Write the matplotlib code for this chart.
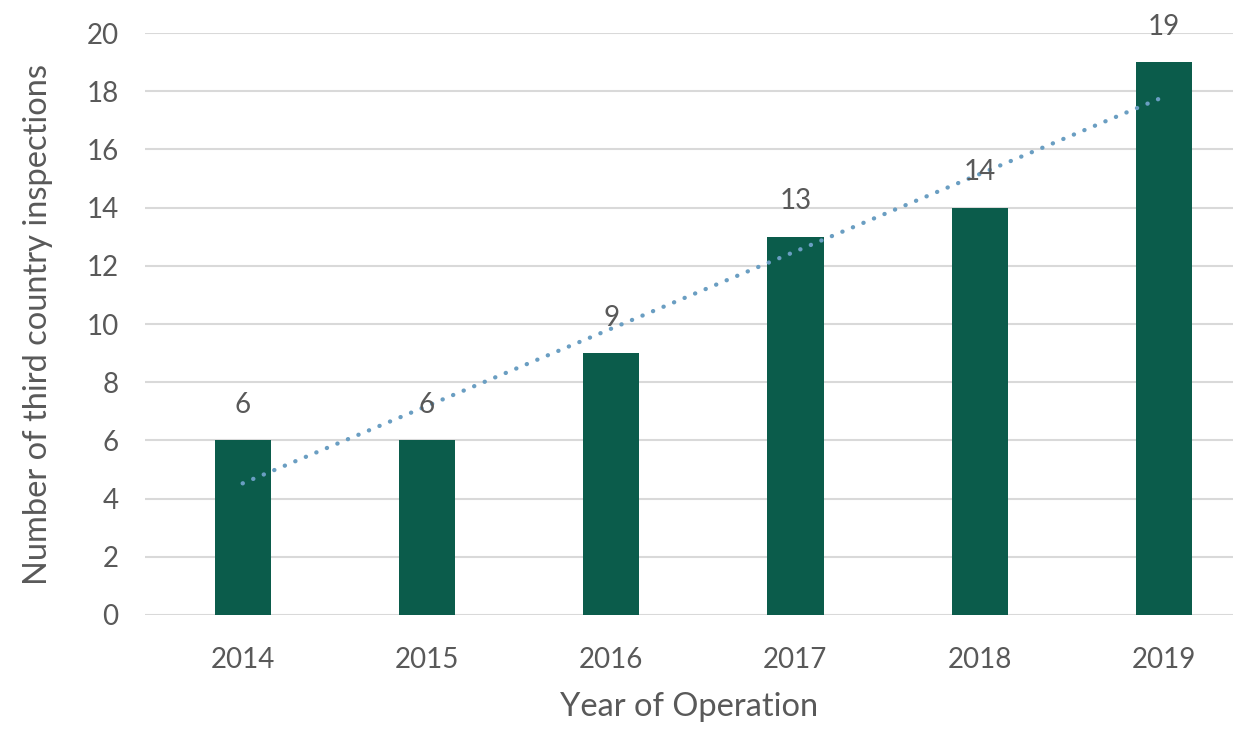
import matplotlib
matplotlib.use("Agg")
import matplotlib.pyplot as plt
import numpy as np

years = ["2014", "2015", "2016", "2017", "2018", "2019"]
inspections = [6, 6, 9, 13, 14, 19]
y_ticks = [0, 2, 4, 6, 8, 10, 12, 14, 16, 18, 20]

plt.rcParams['font.family'] = ['Lato', 'DejaVu Sans']
text_color = "#595959"
bar_color = "#0b5c4b"
trend_color = "#6a9ec2"

fig = plt.figure(figsize=(12.33, 7.29), dpi=100)
ax = fig.add_axes([0.1176, 0.1564, 0.8824, 0.7983])

x = np.arange(len(years))
ax.bar(x, inspections, width=0.305, color=bar_color, zorder=3)

# linear trendline (least squares fit of the data)
coef = np.polyfit(x, inspections, 1)
ax.plot(x, np.polyval(coef, x), linestyle=(0, (0.05, 2.6)), color=trend_color,
        linewidth=3.1, dash_capstyle='round', zorder=4)

for xi, v in zip(x, inspections):
    ax.annotate(str(v), (xi, v), xytext=(0, 16), textcoords="offset points",
                ha="center", va="bottom", fontsize=20, color=text_color, zorder=5)

ax.set_xlim(-0.53, 5.375)
ax.set_ylim(0, 20)
ax.set_yticks(y_ticks)
ax.set_xticks(x)
ax.set_xticklabels(years)
ax.tick_params(axis='both', length=0, labelsize=20, colors=text_color)
ax.tick_params(axis='y', pad=19)
ax.tick_params(axis='x', pad=23)
ax.grid(axis='y', color="#d9d9d9", linewidth=1.5, zorder=0)
for s in ax.spines.values():
    s.set_visible(False)

ax.set_xlabel("Year of Operation", fontsize=23.5, color=text_color, labelpad=14)
ax.set_ylabel("Number of third country inspections", fontsize=23.5, color=text_color, labelpad=24)

fig.savefig("out.png", dpi=100)
